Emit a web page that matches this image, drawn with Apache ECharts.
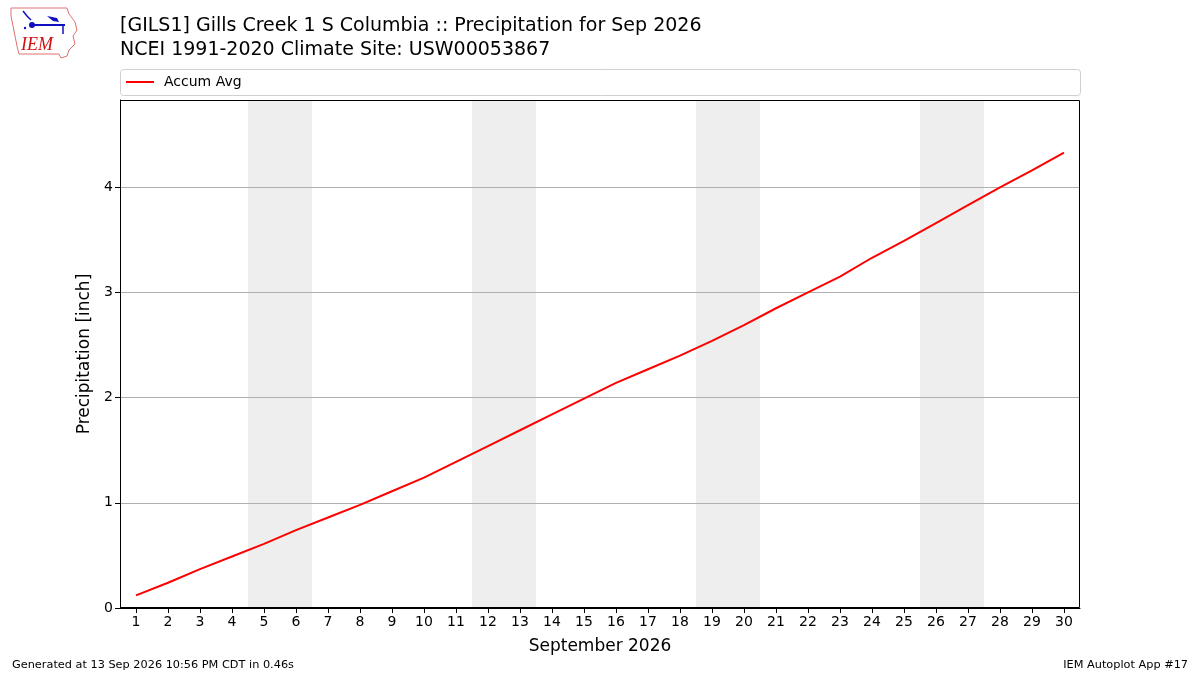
<!DOCTYPE html>
<html>
<head>
    <meta charset="UTF-8">
    <title>Gills Creek precipitation</title>
    <script type="text/javascript" src="https://cdn.jsdelivr.net/npm/echarts@6/dist/echarts.min.js"></script>
    <style>
        *{margin:0;padding:0}
        html,body{width:100%;height:100%;background:#fff}
        #main{width:1200px;height:675px}
    </style>
</head>
<body>
<div id="main"></div>
<script type="text/javascript">
    // days of the month and accumulated average precipitation (inch)
    var days = [1,2,3,4,5,6,7,8,9,10,11,12,13,14,15,16,17,18,19,20,21,22,23,24,25,26,27,28,29,30];
    var accumAvg = [0.12,0.24,0.37,0.49,0.61,0.74,0.86,0.98,1.11,1.24,1.39,1.54,1.69,1.84,1.99,
                    2.14,2.27,2.40,2.54,2.69,2.85,3.00,3.15,3.33,3.49,3.66,3.83,4.00,4.16,4.33];
    // weekend spans (Sat-Sun)
    var weekends = [[4.5,6.5],[11.5,13.5],[18.5,20.5],[25.5,27.5]];
    var yTicks = [0,1,2,3,4];

    var font = 'DejaVu Sans';

    var option = {
        animation: false,
        textStyle: {fontFamily: font},
        title: [
            {
                text: '[GILS1] Gills Creek 1 S Columbia :: Precipitation for Sep 2026\nNCEI 1991-2020 Climate Site: USW00053867',
                left: 120, top: 14, padding: 0,
                textStyle: {fontFamily: font, fontSize: 19, fontWeight: 'normal', color: '#000', lineHeight: 24}
            },
            {
                text: 'Generated at 13 Sep 2026 10:56 PM CDT in 0.46s',
                left: 12, top: 660, padding: 0,
                textStyle: {fontFamily: font, fontSize: 11.3, fontWeight: 'normal', color: '#000'}
            },
            {
                text: 'IEM Autoplot App #17',
                right: 12, top: 660, padding: 0,
                textStyle: {fontFamily: font, fontSize: 11.3, fontWeight: 'normal', color: '#000'}
            }
        ],
        legend: {
            left: 121, top: 70,
            itemWidth: 28, itemHeight: 14, itemGap: 10,
            textStyle: {fontFamily: font, fontSize: 14, color: '#000', padding: [0, 0, 0, 5]},
            data: [{name: 'Accum Avg', icon: 'path://M0,6 L28,6 L28,8 L0,8 Z'}]
        },
        grid: {left: 120, right: 120, top: 100, bottom: 67, containLabel: false},
        xAxis: {
            type: 'value',
            min: 0.5, max: 30.5,
            name: 'September 2026',
            nameLocation: 'middle',
            nameGap: 30,
            nameTextStyle: {fontFamily: font, fontSize: 17, color: '#000'},
            axisLine: {onZero: false, lineStyle: {color: '#000', width: 1}},
            axisTick: {customValues: days, length: 5, lineStyle: {color: '#000'}},
            axisLabel: {customValues: days, fontFamily: font, fontSize: 14, color: '#000', margin: 7},
            splitLine: {show: false}
        },
        yAxis: {
            type: 'value',
            min: 0, max: 4.83,
            name: 'Precipitation [inch]',
            nameLocation: 'middle',
            nameGap: 25,
            nameTextStyle: {fontFamily: font, fontSize: 17, color: '#000'},
            axisLine: {show: true, lineStyle: {color: '#000', width: 1}},
            axisTick: {show: true, customValues: yTicks, length: 5, lineStyle: {color: '#000'}},
            axisLabel: {customValues: yTicks, fontFamily: font, fontSize: 14, color: '#000', margin: 7},
            splitLine: {show: false}
        },
        series: [
            {
                name: 'Accum Avg',
                type: 'line',
                symbol: 'none',
                silent: true,
                data: days.map(function (d, i) { return [d, accumAvg[i]]; }),
                lineStyle: {color: '#ff0000', width: 2},
                itemStyle: {color: '#ff0000'},
                z: 5,
                markArea: {
                    silent: true,
                    itemStyle: {color: '#eeeeee'},
                    data: weekends.map(function (w) { return [{xAxis: w[0]}, {xAxis: w[1]}]; })
                },
                markLine: {
                    silent: true,
                    symbol: 'none',
                    label: {show: false},
                    lineStyle: {color: '#b0b0b0', type: 'solid', width: 1},
                    data: yTicks.slice(1).map(function (v) { return {yAxis: v}; })
                }
            }
        ],
        graphic: [
            // legend frame
            {type: 'rect', shape: {x: 120.5, y: 69.5, width: 960, height: 26, r: 3},
             style: {fill: 'none', stroke: '#d0d0d0', lineWidth: 1}, z: 1, silent: true},
            // plot frame (top / right)
            {type: 'rect', shape: {x: 120.5, y: 100.5, width: 959, height: 507},
             style: {fill: 'none', stroke: '#000', lineWidth: 1}, z: 10, silent: true},
            // IEM logo
            {type: 'group', x: 9, y: 6, silent: true, children: [
                {type: 'polyline', shape: {points: [[2,2],[58,2],[60,8],[66,16],[68,24],[64,30],[66,38],[60,44],[58,50],[52,52],[50,48],[10,48],[8,40],[6,30],[4,20],[2,10],[2,2]]},
                 style: {fill: 'none', stroke: '#e07070', lineWidth: 1}},
                {type: 'polyline', shape: {points: [[14,5],[18,10],[22,14]]}, style: {stroke: '#1010c0', lineWidth: 1.5, fill: 'none'}},
                {type: 'line', shape: {x1: 22, y1: 19, x2: 56, y2: 19}, style: {stroke: '#1010c0', lineWidth: 2}},
                {type: 'circle', shape: {cx: 23, cy: 19, r: 3}, style: {fill: '#1010c0'}},
                {type: 'polygon', shape: {points: [[38,10],[48,12],[50,16],[44,15]]}, style: {fill: '#1010c0'}},
                {type: 'line', shape: {x1: 54, y1: 19, x2: 54, y2: 28}, style: {stroke: '#1010c0', lineWidth: 1.5}},
                {type: 'circle', shape: {cx: 16, cy: 22, r: 1.2}, style: {fill: '#1010c0'}},
                {type: 'text', style: {x: 12, y: 30, text: 'IEM', fill: '#d01010', font: 'italic 18px "Liberation Serif", serif'}}
            ]}
        ]
    };

    var myChart = echarts.init(document.getElementById('main'));
    myChart.setOption(option);
</script>
</body>
</html>
